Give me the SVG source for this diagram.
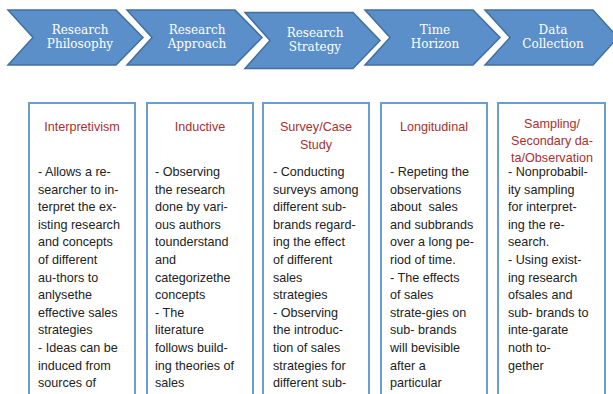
<svg xmlns="http://www.w3.org/2000/svg" width="613" height="394" viewBox="0 0 613 394">
<style>
.chev{fill:#5b8fc9;stroke:#41709f;stroke-width:1.5}
.ct{font-family:"DejaVu Serif","Liberation Serif",serif;font-size:12px;fill:#ffffff;text-anchor:middle}
.box{fill:#ffffff;stroke:#6a9cd6;stroke-width:2}
.tt{font-family:"Liberation Sans",Arial,sans-serif;font-size:12.6px;fill:#a8302f;text-anchor:middle}
.bt{font-family:"Liberation Sans",Arial,sans-serif;font-size:12.6px;fill:#222222;white-space:pre}
</style>
<rect width="613" height="394" fill="#ffffff"/>
<g id="chevron-philosophy">
<polygon class="chev" points="8,10 116,10 143,37.5 116,65 8,65 33,37.5"/>
<text class="ct" x="80" y="33.5">Research</text>
<text class="ct" x="80" y="48">Philosophy</text>
</g>
<g id="chevron-approach">
<polygon class="chev" points="127,10 235,10 262,37.5 235,65 127,65 152,37.5"/>
<text class="ct" x="197" y="33.5">Research</text>
<text class="ct" x="197" y="48">Approach</text>
</g>
<g id="chevron-strategy">
<polygon class="chev" points="245,12.5 353,12.5 380,40.5 353,68.5 245,68.5 270,40.5"/>
<text class="ct" x="315" y="36.5">Research</text>
<text class="ct" x="315" y="51">Strategy</text>
</g>
<g id="chevron-time">
<polygon class="chev" points="365,10 473,10 500,37.5 473,65 365,65 390,37.5"/>
<text class="ct" x="435" y="33.5">Time</text>
<text class="ct" x="435" y="48">Horizon</text>
</g>
<g id="chevron-data">
<polygon class="chev" points="485,10 593,10 618,37.5 593,65 485,65 510,37.5"/>
<text class="ct" x="553" y="33.5">Data</text>
<text class="ct" x="553" y="48">Collection</text>
</g>
<g id="connectors"></g>
<g id="box-interpretivism">
<rect class="box" x="29" y="103" width="106" height="300"/>
<text class="tt" x="82" y="131">Interpretivism</text>
<text class="bt" x="38" y="176"><tspan x="38">- Allows a re-</tspan><tspan x="38" dy="17.6">searcher to in-</tspan><tspan x="38" dy="17.6">terpret the ex-</tspan><tspan x="38" dy="17.6">isting research</tspan><tspan x="38" dy="17.6">and concepts</tspan><tspan x="38" dy="17.6">of different</tspan><tspan x="38" dy="17.6">au-thors to</tspan><tspan x="38" dy="17.6">anlysethe</tspan><tspan x="38" dy="17.6">effective sales</tspan><tspan x="38" dy="17.6">strategies</tspan><tspan x="38" dy="17.6">- Ideas can be</tspan><tspan x="38" dy="17.6">induced from</tspan><tspan x="38" dy="17.6">sources of</tspan></text>
</g>
<g id="box-inductive">
<rect class="box" x="147" y="103" width="106" height="300"/>
<text class="tt" x="200" y="131">Inductive</text>
<text class="bt" x="155" y="176"><tspan x="155">- Observing</tspan><tspan x="155" dy="17.6">the research</tspan><tspan x="155" dy="17.6">done by vari-</tspan><tspan x="155" dy="17.6">ous authors</tspan><tspan x="155" dy="17.6">tounderstand</tspan><tspan x="155" dy="17.6">and</tspan><tspan x="155" dy="17.6">categorizethe</tspan><tspan x="155" dy="17.6">concepts</tspan><tspan x="155" dy="17.6">- The</tspan><tspan x="155" dy="17.6">literature</tspan><tspan x="155" dy="17.6">follows build-</tspan><tspan x="155" dy="17.6">ing theories of</tspan><tspan x="155" dy="17.6">sales</tspan></text>
</g>
<g id="box-survey">
<rect class="box" x="263" y="103" width="106" height="300"/>
<text class="tt" x="316" y="131">Survey/Case</text>
<text class="tt" x="316" y="148.5">Study</text>
<text class="bt" x="273" y="176"><tspan x="273">- Conducting</tspan><tspan x="273" dy="17.6">surveys among</tspan><tspan x="273" dy="17.6">different sub-</tspan><tspan x="273" dy="17.6">brands regard-</tspan><tspan x="273" dy="17.6">ing the effect</tspan><tspan x="273" dy="17.6">of different</tspan><tspan x="273" dy="17.6">sales</tspan><tspan x="273" dy="17.6">strategies</tspan><tspan x="273" dy="17.6">- Observing</tspan><tspan x="273" dy="17.6">the introduc-</tspan><tspan x="273" dy="17.6">tion of sales</tspan><tspan x="273" dy="17.6">strategies for</tspan><tspan x="273" dy="17.6">different sub-</tspan></text>
</g>
<g id="box-longitudinal">
<rect class="box" x="381" y="103" width="106" height="300"/>
<text class="tt" x="434" y="131">Longitudinal</text>
<text class="bt" x="390" y="176"><tspan x="390">- Repeting the</tspan><tspan x="390" dy="17.6">observations</tspan><tspan x="390" dy="17.6">about  sales</tspan><tspan x="390" dy="17.6">and subbrands</tspan><tspan x="390" dy="17.6">over a long pe-</tspan><tspan x="390" dy="17.6">riod of time.</tspan><tspan x="390" dy="17.6">- The effects</tspan><tspan x="390" dy="17.6">of sales</tspan><tspan x="390" dy="17.6">strate-gies on</tspan><tspan x="390" dy="17.6">sub- brands</tspan><tspan x="390" dy="17.6">will bevisible</tspan><tspan x="390" dy="17.6">after a</tspan><tspan x="390" dy="17.6">particular</tspan></text>
</g>
<g id="box-sampling">
<rect class="box" x="498" y="103" width="107" height="300"/>
<text class="tt" x="552" y="127.5">Sampling/</text>
<text class="tt" x="552" y="144.5">Secondary da-</text>
<text class="tt" x="552" y="161.5">ta/Observation</text>
<text class="bt" x="508" y="176"><tspan x="508">- Nonprobabil-</tspan><tspan x="508" dy="17.6">ity sampling</tspan><tspan x="508" dy="17.6">for interpret-</tspan><tspan x="508" dy="17.6">ing the re-</tspan><tspan x="508" dy="17.6">search.</tspan><tspan x="508" dy="17.6">- Using exist-</tspan><tspan x="508" dy="17.6">ing research</tspan><tspan x="508" dy="17.6">ofsales and</tspan><tspan x="508" dy="17.6">sub- brands to</tspan><tspan x="508" dy="17.6">inte-garate</tspan><tspan x="508" dy="17.6">noth to-</tspan><tspan x="508" dy="17.6">gether</tspan></text>
</g>
</svg>
